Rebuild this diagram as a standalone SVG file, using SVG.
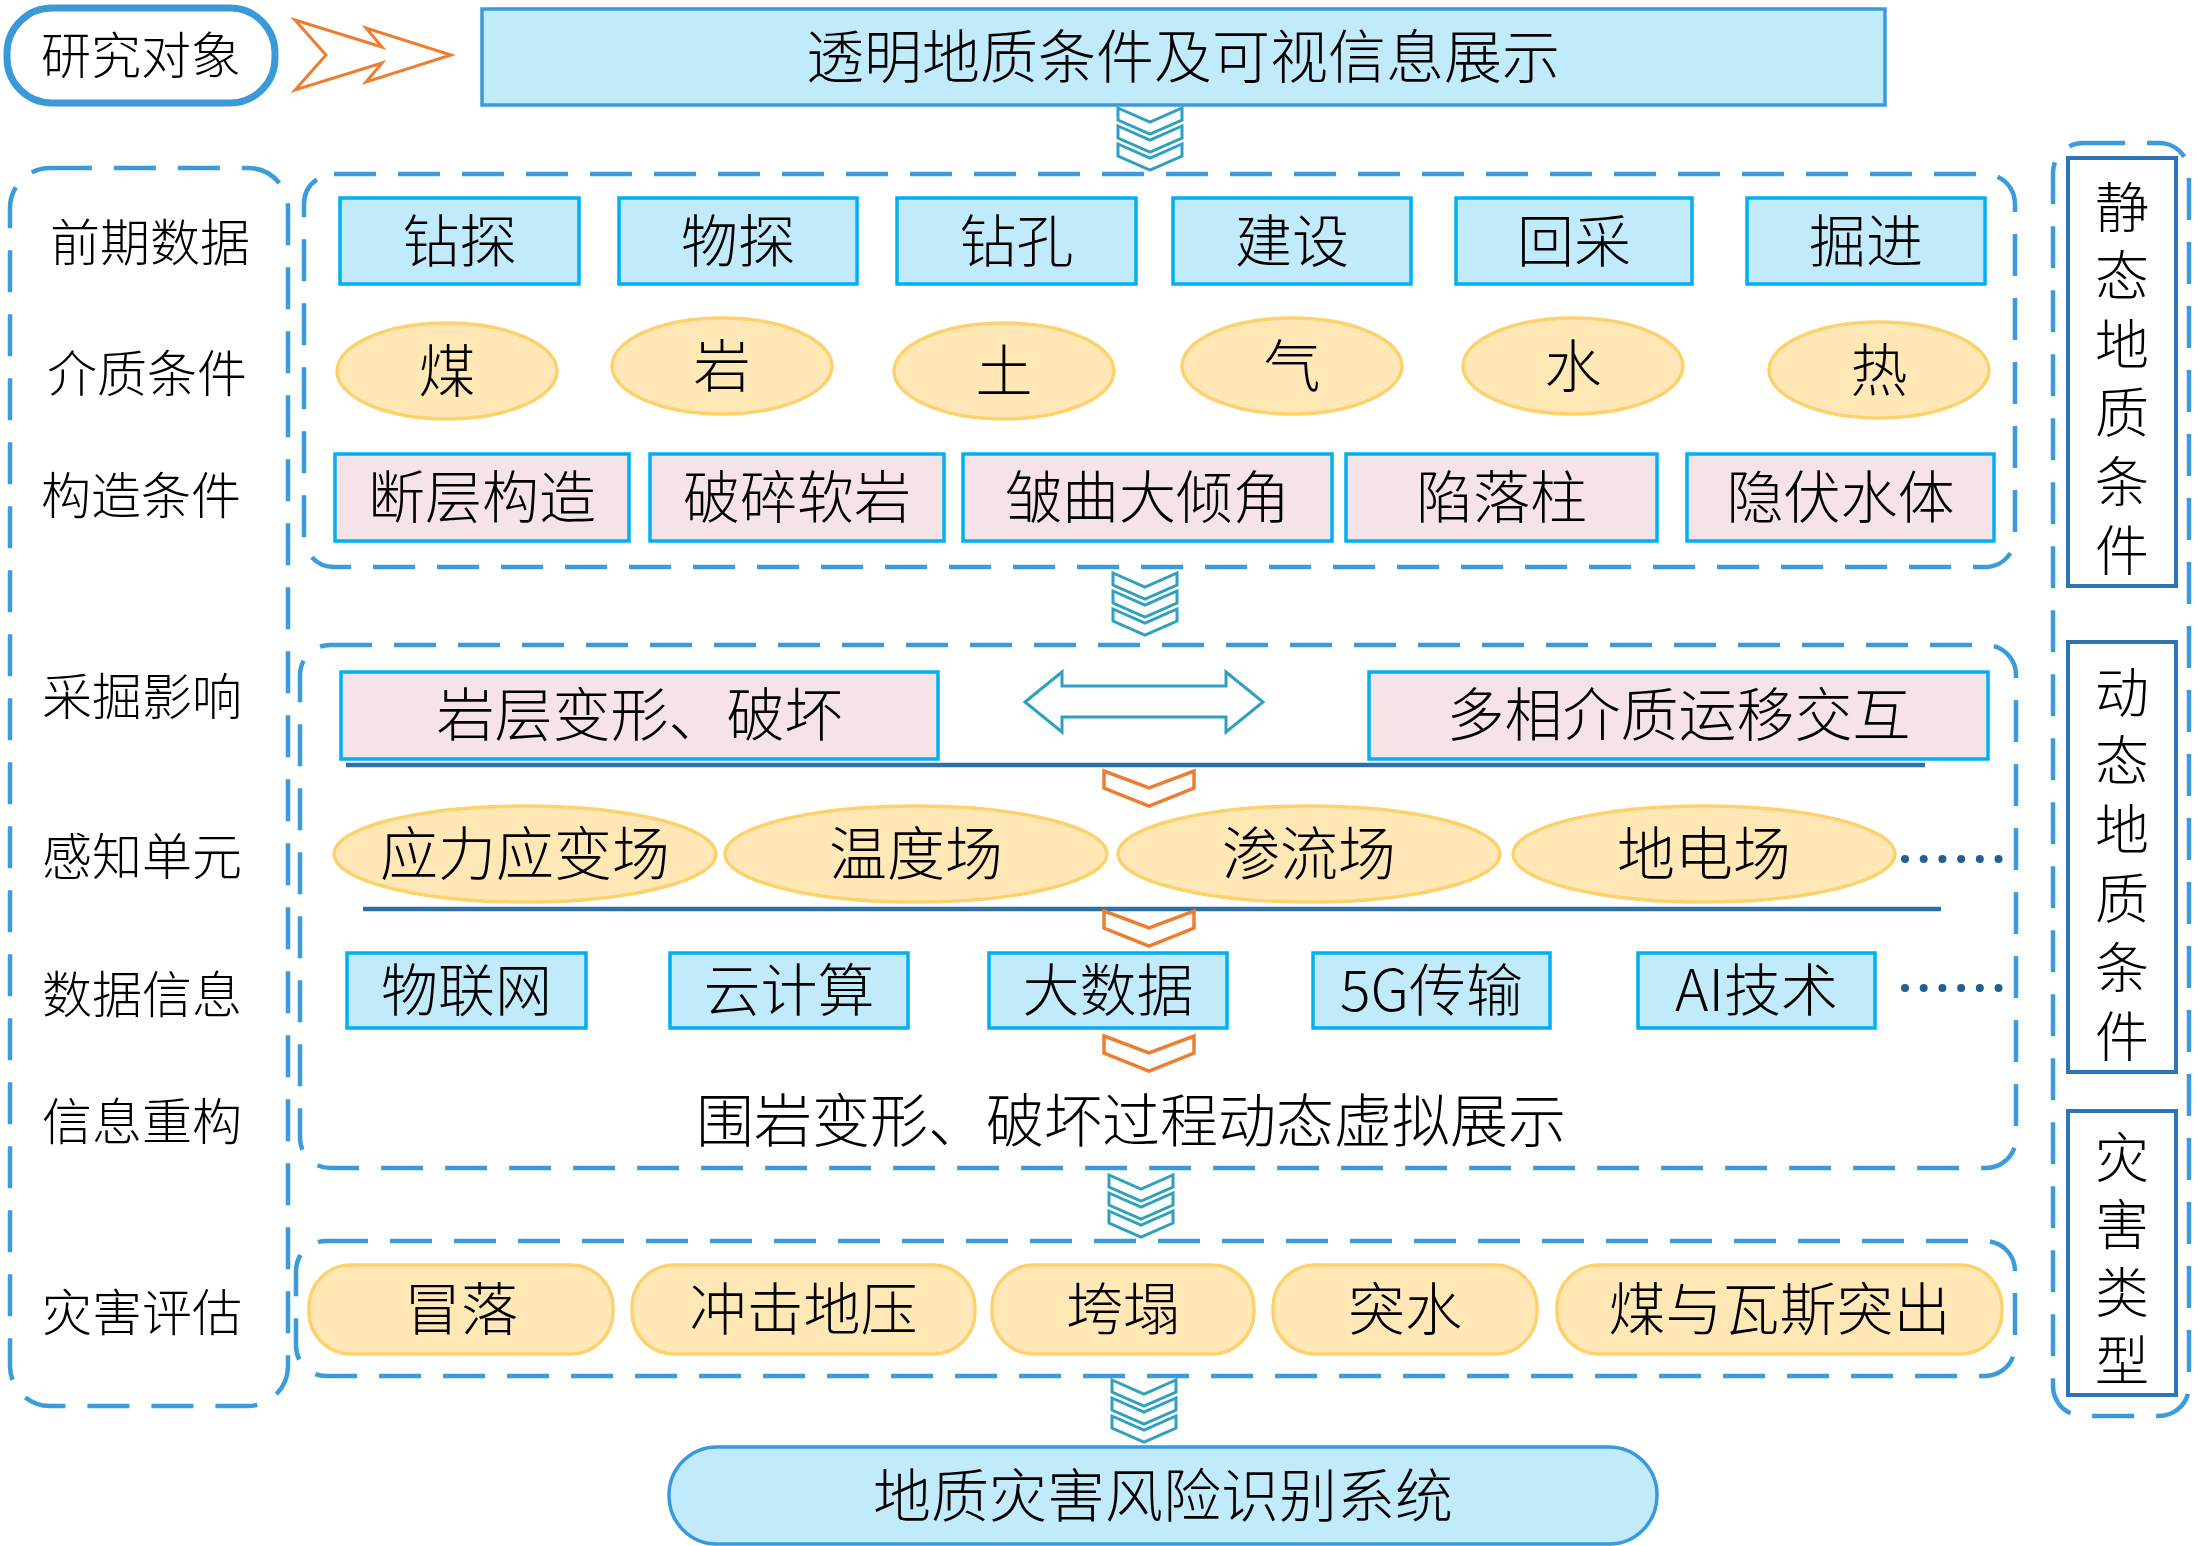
<svg xmlns="http://www.w3.org/2000/svg" width="2197" height="1546" viewBox="0 0 2197 1546">
<style>
text{font-family:"Noto Sans CJK SC","Noto Sans",sans-serif;font-weight:300;fill:#000;text-anchor:middle;dominant-baseline:central;transform:translateY(-4px)}
text.vt{font-size:54px;writing-mode:vertical-rl;text-anchor:start;transform:none}
.dash{fill:none;stroke:#3B9BDB;stroke-width:4.5;stroke-dasharray:42 22}
.bb{fill:#C1EAFA;stroke:#00B0F0;stroke-width:3.5}
.pk{fill:#F5E3E8;stroke:#00B0F0;stroke-width:3.5}
.el{fill:#FFE8B6;stroke:#FDD26E;stroke-width:3.5}
.sb{fill:#fff;stroke:#2E75B6;stroke-width:4}
.t57{font-size:57px}
.t50{font-size:50px}
.hl{stroke:#2E6FA6;stroke-width:4.5}
.dot{fill:#255E91}
.chv{fill:none;stroke:#2FA0BE;stroke-width:3}
.och{fill:#fff;stroke:#ED7D31;stroke-width:3.5}
</style>
<defs>
<g id="tri">
<polygon class="chv" points="-32,0 0,14 32,0 32,12 0,26 -32,12"/>
<polygon class="chv" points="-32,18 0,32 32,18 32,30 0,44 -32,30"/>
<polygon class="chv" points="-32,36 0,50 32,36 32,48 0,62 -32,48"/>
</g>
<polygon id="orng" class="och" points="-45,0 0,17 45,0 45,17 0,35 -45,17"/>
<g id="dots">
<circle class="dot" cx="0" cy="0" r="4"/><circle class="dot" cx="18.7" cy="0" r="4"/><circle class="dot" cx="37.4" cy="0" r="4"/>
<circle class="dot" cx="56.1" cy="0" r="4"/><circle class="dot" cx="74.8" cy="0" r="4"/><circle class="dot" cx="93.5" cy="0" r="4"/>
</g>
</defs>

<!-- containers -->
<g id="containers">
<rect id="left-box" class="dash" x="10" y="168" width="278" height="1238" rx="40"/>
<rect id="static-box" class="dash" x="304" y="174" width="1711" height="393" rx="30"/>
<rect id="dynamic-box" class="dash" x="300" y="645" width="1716" height="523" rx="30"/>
<rect id="hazard-box" class="dash" x="296" y="1241" width="1719" height="135" rx="30"/>
<rect id="right-box" class="dash" x="2053" y="143" width="136" height="1273" rx="30"/>
</g>

<!-- connectors -->
<g id="connectors">
<polygon fill="#fff" stroke="#ED7D31" stroke-width="3" points="295,20 382,47 366,28 451,55 366,82 382,63 295,90 326,55"/>
<use href="#tri" x="1150" y="108"/>
<use href="#tri" x="1145" y="573"/>
<use href="#tri" x="1141" y="1175"/>
<use href="#tri" x="1144" y="1380"/>
<polygon fill="#fff" stroke="#2FA0BE" stroke-width="3" points="1025,702 1062,672 1062,686 1226,686 1226,672 1263,702 1226,732 1226,717 1062,717 1062,732"/>
<line class="hl" x1="346" y1="765" x2="1925" y2="765"/>
<line class="hl" x1="363" y1="909" x2="1941" y2="909"/>
<use href="#orng" x="1149" y="771"/>
<use href="#orng" x="1149" y="911"/>
<use href="#orng" x="1149" y="1036"/>
<use href="#dots" x="1905" y="859"/>
<use href="#dots" x="1905" y="988"/>
</g>

<g id="n-research"><rect x="7" y="8" width="268" height="95" rx="45" fill="#fff" stroke="#3A9AD9" stroke-width="7"/><text class="t50" x="141" y="56">研究对象</text></g>
<g id="n-title"><rect x="482" y="9" width="1403" height="96" fill="#C1EAFA" stroke="#3A9AD9" stroke-width="3.5"/><text x="1183" y="57" font-size="58">透明地质条件及可视信息展示</text></g>

<!-- left labels -->
<g id="n-labels">
<text class="t50" x="150" y="243">前期数据</text>
<text class="t50" x="147" y="374">介质条件</text>
<text class="t50" x="141" y="496">构造条件</text>
<text class="t50" x="142" y="697">采掘影响</text>
<text class="t50" x="142" y="857">感知单元</text>
<text class="t50" x="142" y="995">数据信息</text>
<text class="t50" x="142" y="1122">信息重构</text>
<text class="t50" x="142" y="1313">灾害评估</text>
</g>

<!-- row 1 -->
<g id="n-zuantan"><rect class="bb" x="340" y="198" width="239" height="86"/><text class="t57" x="459.5" y="241">钻探</text></g>
<g id="n-wutan"><rect class="bb" x="619" y="198" width="238" height="86"/><text class="t57" x="738" y="241">物探</text></g>
<g id="n-zuankong"><rect class="bb" x="897" y="198" width="239" height="86"/><text class="t57" x="1016.5" y="241">钻孔</text></g>
<g id="n-jianshe"><rect class="bb" x="1173" y="198" width="238" height="86"/><text class="t57" x="1292" y="241">建设</text></g>
<g id="n-huicai"><rect class="bb" x="1456" y="198" width="236" height="86"/><text class="t57" x="1574" y="241">回采</text></g>
<g id="n-juejin"><rect class="bb" x="1747" y="198" width="238" height="86"/><text class="t57" x="1866" y="241">掘进</text></g>

<!-- row 2 -->
<g id="n-mei"><ellipse class="el" cx="447" cy="371" rx="110" ry="48"/><text class="t57" x="447" y="371">煤</text></g>
<g id="n-yan"><ellipse class="el" cx="722" cy="366" rx="110" ry="48"/><text class="t57" x="722" y="366">岩</text></g>
<g id="n-tu"><ellipse class="el" cx="1004" cy="371" rx="110" ry="48"/><text class="t57" x="1004" y="371">土</text></g>
<g id="n-qi"><ellipse class="el" cx="1292" cy="366" rx="110" ry="48"/><text class="t57" x="1292" y="366">气</text></g>
<g id="n-shui"><ellipse class="el" cx="1573" cy="366" rx="110" ry="48"/><text class="t57" x="1573" y="366">水</text></g>
<g id="n-re"><ellipse class="el" cx="1879" cy="370" rx="110" ry="48"/><text class="t57" x="1879" y="370">热</text></g>

<!-- row 3 -->
<g id="n-duanceng"><rect class="pk" x="335" y="454" width="294" height="87"/><text class="t57" x="482" y="497">断层构造</text></g>
<g id="n-posui"><rect class="pk" x="650" y="454" width="294" height="87"/><text class="t57" x="797" y="497">破碎软岩</text></g>
<g id="n-zhouqu"><rect class="pk" x="963" y="454" width="369" height="87"/><text class="t57" x="1147.5" y="497">皱曲大倾角</text></g>
<g id="n-xianluo"><rect class="pk" x="1346" y="454" width="311" height="87"/><text class="t57" x="1501.5" y="497">陷落柱</text></g>
<g id="n-yinfu"><rect class="pk" x="1687" y="454" width="307" height="87"/><text class="t57" x="1840.5" y="497">隐伏水体</text></g>

<!-- dynamic -->
<g id="n-yanceng"><rect class="pk" x="341" y="672" width="597" height="87"/><text x="639.5" y="715" font-size="58">岩层变形、破坏</text></g>
<g id="n-duoxiang"><rect class="pk" x="1369" y="672" width="619" height="87"/><text x="1678.5" y="715" font-size="58">多相介质运移交互</text></g>

<g id="n-yingli"><ellipse class="el" cx="525" cy="854" rx="191" ry="48"/><text x="525" y="854" font-size="58">应力应变场</text></g>
<g id="n-wendu"><ellipse class="el" cx="916" cy="854" rx="191" ry="48"/><text x="916" y="854" font-size="58">温度场</text></g>
<g id="n-shenliu"><ellipse class="el" cx="1309" cy="854" rx="191" ry="48"/><text x="1309" y="854" font-size="58">渗流场</text></g>
<g id="n-didian"><ellipse class="el" cx="1704" cy="854" rx="191" ry="48"/><text x="1704" y="854" font-size="58">地电场</text></g>

<g id="n-wulian"><rect class="bb" x="347" y="953" width="239" height="75"/><text class="t57" x="466.5" y="990">物联网</text></g>
<g id="n-yunjisuan"><rect class="bb" x="670" y="953" width="238" height="75"/><text class="t57" x="789" y="990">云计算</text></g>
<g id="n-dashuju"><rect class="bb" x="989" y="953" width="238" height="75"/><text class="t57" x="1108" y="990">大数据</text></g>
<g id="n-5g"><rect class="bb" x="1313" y="953" width="237" height="75"/><text class="t57" x="1431.5" y="990">5G传输</text></g>
<g id="n-ai"><rect class="bb" x="1638" y="953" width="237" height="75"/><text class="t57" x="1756.5" y="990">AI技术</text></g>

<g id="n-weiyan"><text x="1131" y="1121" font-size="58">围岩变形、破坏过程动态虚拟展示</text></g>

<!-- hazards -->
<g id="n-maoluo"><rect class="el" x="309" y="1265" width="304" height="89" rx="42"/><text class="t57" x="461" y="1309">冒落</text></g>
<g id="n-chongji"><rect class="el" x="632" y="1265" width="343" height="89" rx="42"/><text class="t57" x="803.5" y="1309">冲击地压</text></g>
<g id="n-kuata"><rect class="el" x="992" y="1265" width="262" height="89" rx="42"/><text class="t57" x="1123" y="1309">垮塌</text></g>
<g id="n-tushui"><rect class="el" x="1273" y="1265" width="264" height="89" rx="42"/><text class="t57" x="1405" y="1309">突水</text></g>
<g id="n-wasi"><rect class="el" x="1557" y="1265" width="445" height="89" rx="42"/><text class="t57" x="1779.5" y="1309">煤与瓦斯突出</text></g>

<g id="n-system"><rect x="669" y="1447" width="988" height="97" rx="48" fill="#C1EAFA" stroke="#3A9AD9" stroke-width="3.5"/><text x="1163" y="1496" font-size="58">地质灾害风险识别系统</text></g>

<!-- right side -->
<g id="n-static">
<rect class="sb" x="2068" y="158" width="108" height="428"/>
<text class="vt" x="2122" y="180" letter-spacing="14.6">静态地质条件</text>
</g>
<g id="n-dynamic">
<rect class="sb" x="2068" y="642" width="108" height="430"/>
<text class="vt" x="2122" y="665" letter-spacing="14.8">动态地质条件</text>
</g>
<g id="n-hazardtype">
<rect class="sb" x="2068" y="1111" width="108" height="284"/>
<text class="vt" x="2122" y="1130" letter-spacing="13.7">灾害类型</text>
</g>
</svg>
